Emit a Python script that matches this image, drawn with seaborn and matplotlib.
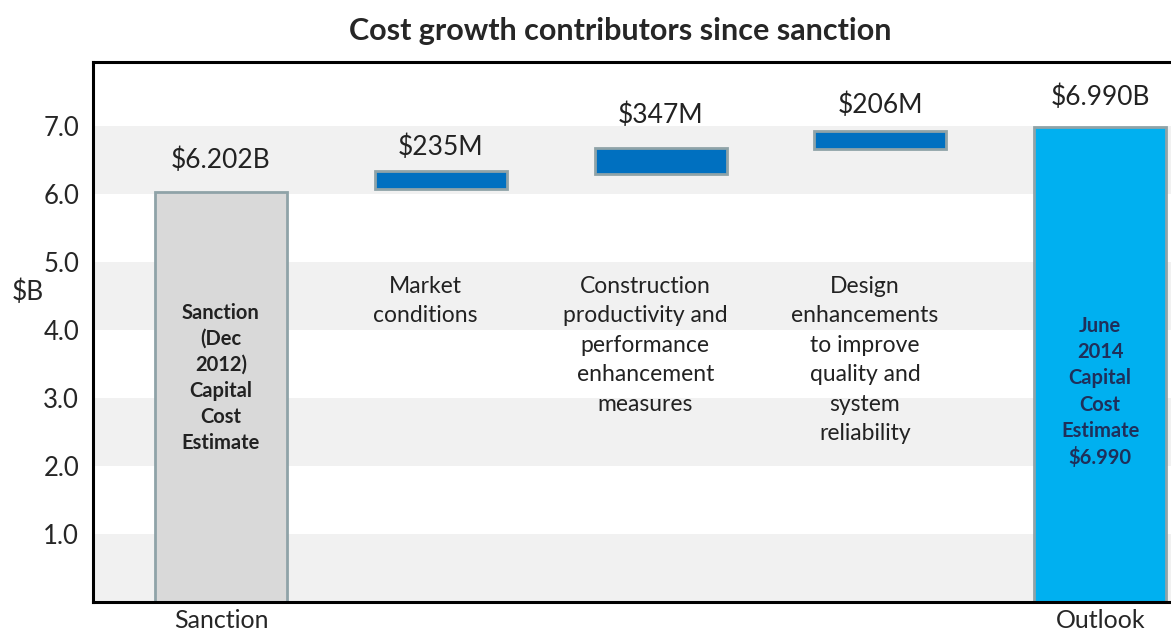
import matplotlib
matplotlib.use("Agg")
import matplotlib.pyplot as plt
import seaborn as sns
import pandas as pd

# data ($B)
steps = ["Sanction", "Market", "Construction", "Design", "Outlook"]
bar_bottom = [0.0, 6.07, 6.29, 6.66, 0.0]
bar_top = [6.03, 6.34, 6.67, 6.92, 6.99]
value_labels = ["$6.202B", "$235M", "$347M", "$206M", "$6.990B"]
tick_labels = ["Sanction", "", "", "", "Outlook"]
notes = ["", "Market\nconditions",
         "Construction\nproductivity and\nperformance\nenhancement\nmeasures",
         "Design\nenhancements\nto improve\nquality and\nsystem\nreliability", ""]
inner_text = ["Sanction\n(Dec\n2012)\nCapital\nCost\nEstimate", "", "", "",
              "June\n2014\nCapital\nCost\nEstimate\n$6.990"]
colors = ["#d9d9d9", "#0070c0", "#0070c0", "#0070c0", "#00b0f0"]

sns.set_style("white")
plt.rcParams['font.family'] = ['Lato', 'DejaVu Sans']

df = pd.DataFrame({"step": steps, "top": bar_top})

fig = plt.figure(figsize=(11.71, 6.37), dpi=100)
ax = fig.add_axes([0.0794, 0.055, 0.924, 0.8477])

for lo in [0, 2, 4, 6]:
    ax.axhspan(lo, lo + 1, color="#f1f1f1", zorder=0, lw=0)

sns.barplot(data=df, x="step", y="top", hue="step", palette=colors,
            width=0.6, edgecolor="#8fa3a8", linewidth=2, saturation=1,
            legend=False, ax=ax, zorder=2)

# turn middle bars into floating waterfall pieces
bars = [c[0] for c in ax.containers]
for i, p in enumerate(bars):
    p.set_y(bar_bottom[i])
    p.set_height(bar_top[i] - bar_bottom[i])

label_y = [6.49, 6.68, 7.16, 7.3, 7.42]
for i, t in enumerate(value_labels):
    ax.text(i, label_y[i], t, ha="center", va="center", fontsize=19, color="#222222")

for i, t in enumerate(notes):
    if t:
        ax.text(i - 0.07, 4.8, t, ha="center", va="top", fontsize=16.5,
                color="#222222", linespacing=1.5)

ax.text(0, 4.4, inner_text[0], ha="center", va="top", fontsize=14.5,
        fontweight="bold", color="#222222", linespacing=1.38)
ax.text(4, 4.2, inner_text[4], ha="center", va="top", fontsize=14.5,
        fontweight="bold", color="#1f2f5a", linespacing=1.38)

ax.set_xlim(-0.582, 4.34)
ax.set_ylim(0, 7.94)
ax.set_yticks([1, 2, 3, 4, 5, 6, 7])
ax.set_yticklabels([f"{v:.1f}" for v in [1, 2, 3, 4, 5, 6, 7]], fontsize=18.5)
ax.set_xticks(range(5))
ax.set_xticklabels(tick_labels, fontsize=18)
ax.tick_params(axis="y", length=0, pad=10)
ax.tick_params(axis="x", length=0, pad=5)
ax.set_xlabel("")
ax.set_ylabel("$B", fontsize=19, rotation=0)
ax.yaxis.set_label_coords(-0.06, 0.55)

for s in ["left", "top", "bottom"]:
    ax.spines[s].set_color("black")
    ax.spines[s].set_linewidth(2.2)
ax.spines["right"].set_visible(False)

fig.text(0.53, 0.952, "Cost growth contributors since sanction", ha="center",
         va="center", fontsize=22, fontweight="bold")

fig.savefig("out.png", dpi=100)
